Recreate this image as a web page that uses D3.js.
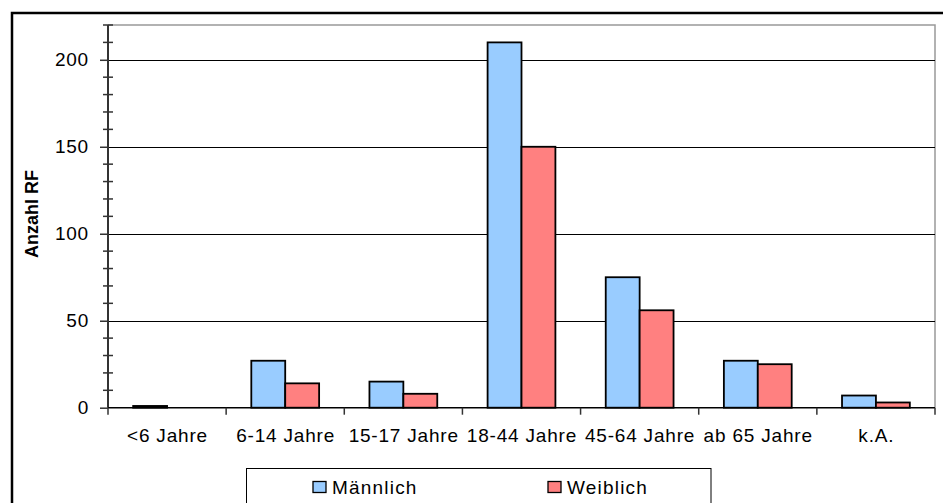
<!DOCTYPE html>
<html>
<head>
<meta charset="utf-8">
<script src="https://cdnjs.cloudflare.com/ajax/libs/d3/7.8.5/d3.min.js"></script>
<style>
  html, body { margin: 0; padding: 0; background: #fff; }
  svg { display: block; font-family: "Liberation Sans", Arial, sans-serif; }
</style>
</head>
<body>
<svg id="chart" width="943" height="503"></svg>
<script>
// Altersgruppen und Anzahl RF je Geschlecht
const categories = ["<6 Jahre", "6-14 Jahre", "15-17 Jahre", "18-44 Jahre", "45-64 Jahre", "ab 65 Jahre", "k.A."];
const maennlich = [1, 27, 15, 210, 75, 27, 7];
const weiblich  = [0, 14, 8, 150, 56, 25, 3];
const seriesNames = ["Männlich", "Weiblich"];
const seriesColors = ["#99CCFF", "#FF8080"];
const yMajorTicks = [0, 50, 100, 150, 200];
const yTitle = "Anzahl RF";

const svg = d3.select("#chart");
const plot = { left: 108, right: 935, top: 25, bottom: 407.7 };
const FS = 19, LS = "0.8px";

// outer chart frame (extends past the visible area on right/bottom)
svg.append("rect")
  .attr("x", 12).attr("y", 13)
  .attr("width", 960).attr("height", 520)
  .attr("fill", "#fff").attr("stroke", "#000").attr("stroke-width", 2.5);

const x0 = d3.scaleBand().domain(categories).range([plot.left, plot.right]).padding(0);
const bw = x0.bandwidth();
const x1 = d3.scaleBand().domain(seriesNames).range([bw * 0.213, bw * 0.787]).padding(0);
const y = d3.scaleLinear().domain([0, 220]).range([plot.bottom, plot.top]);

// plot area border (top and right)
svg.append("path")
  .attr("d", `M${plot.left},${plot.top}H${plot.right}V${plot.bottom}`)
  .attr("fill", "none").attr("stroke", "#999").attr("stroke-width", 1.5);

// gridlines
svg.append("g").selectAll("line")
  .data(yMajorTicks.filter(d => d > 0))
  .join("line")
  .attr("x1", plot.left).attr("x2", plot.right)
  .attr("y1", d => Math.round(y(d)) + 0.5).attr("y2", d => Math.round(y(d)) + 0.5)
  .attr("stroke", "#000").attr("stroke-width", 1);

// bars
const rows = categories.map((c, i) => ({ cat: c, values: [maennlich[i], weiblich[i]] }));
const groups = svg.append("g").selectAll("g")
  .data(rows).join("g")
  .attr("transform", d => `translate(${x0(d.cat)},0)`);
groups.selectAll("rect")
  .data(d => d.values.map((v, j) => ({ name: seriesNames[j], v, j })).filter(e => e.v > 0))
  .join("rect")
  .attr("x", d => x1(d.name))
  .attr("width", x1.bandwidth())
  .attr("y", d => y(d.v))
  .attr("height", d => y(0) - y(d.v))
  .attr("fill", d => seriesColors[d.j])
  .attr("stroke", "#000").attr("stroke-width", 1.8);

// y axis line
svg.append("line")
  .attr("x1", plot.left).attr("x2", plot.left)
  .attr("y1", plot.top).attr("y2", plot.bottom)
  .attr("stroke", "#333").attr("stroke-width", 2);

// minor ticks (every 10), crossing the axis
const minor = d3.range(0, 221, 10).filter(d => d % 50 !== 0);
svg.append("g").selectAll("line").data(minor).join("line")
  .attr("x1", plot.left - 5).attr("x2", plot.left + 5)
  .attr("y1", d => y(d)).attr("y2", d => y(d))
  .attr("stroke", "#333").attr("stroke-width", 1.5);

// major ticks + labels
const yAxis = d3.axisLeft(y).tickValues(yMajorTicks).tickSize(8).tickPadding(11).tickFormat(d3.format("d"));
const gy = svg.append("g").attr("transform", `translate(${plot.left},0)`).call(yAxis);
gy.select(".domain").remove();
gy.selectAll(".tick line").attr("stroke", "#333").attr("stroke-width", 1.5);
gy.selectAll(".tick text")
  .attr("font-size", FS).attr("fill", "#000")
  .style("font-family", "'Liberation Sans', Arial, sans-serif")
  .style("letter-spacing", LS);

// x axis line
svg.append("line")
  .attr("x1", plot.left).attr("x2", plot.right)
  .attr("y1", plot.bottom).attr("y2", plot.bottom)
  .attr("stroke", "#000").attr("stroke-width", 1.5);

// category boundary ticks
const bounds = categories.map(c => x0(c)).concat([plot.right]);
svg.append("g").selectAll("line").data(bounds).join("line")
  .attr("x1", d => d).attr("x2", d => d)
  .attr("y1", plot.bottom).attr("y2", plot.bottom + 7)
  .attr("stroke", "#333").attr("stroke-width", 1.5);

// category labels
svg.append("g").selectAll("text").data(categories).join("text")
  .attr("x", d => x0(d) + bw / 2 + 0.4)
  .attr("y", 442)
  .attr("text-anchor", "middle")
  .attr("font-size", FS)
  .style("letter-spacing", LS)
  .text(d => d);

// y axis title
svg.append("text")
  .attr("transform", "translate(38,214) rotate(-90)")
  .attr("text-anchor", "middle")
  .attr("font-size", 18).attr("font-weight", "bold")
  .text(yTitle);

// legend
const lg = svg.append("g");
lg.append("rect")
  .attr("x", 246.5).attr("y", 468.5).attr("width", 464.5).attr("height", 60)
  .attr("fill", "#fff").attr("stroke", "#000").attr("stroke-width", 1);
const legendX = [313, 548];
seriesNames.forEach((name, j) => {
  lg.append("rect")
    .attr("x", legendX[j]).attr("y", 481.5).attr("width", 13).attr("height", 11)
    .attr("fill", seriesColors[j]).attr("stroke", "#000").attr("stroke-width", 1.3);
  lg.append("text")
    .attr("x", legendX[j] + 19).attr("y", 494)
    .attr("font-size", FS)
    .style("letter-spacing", "1.2px")
    .text(name);
});
</script>
</body>
</html>
